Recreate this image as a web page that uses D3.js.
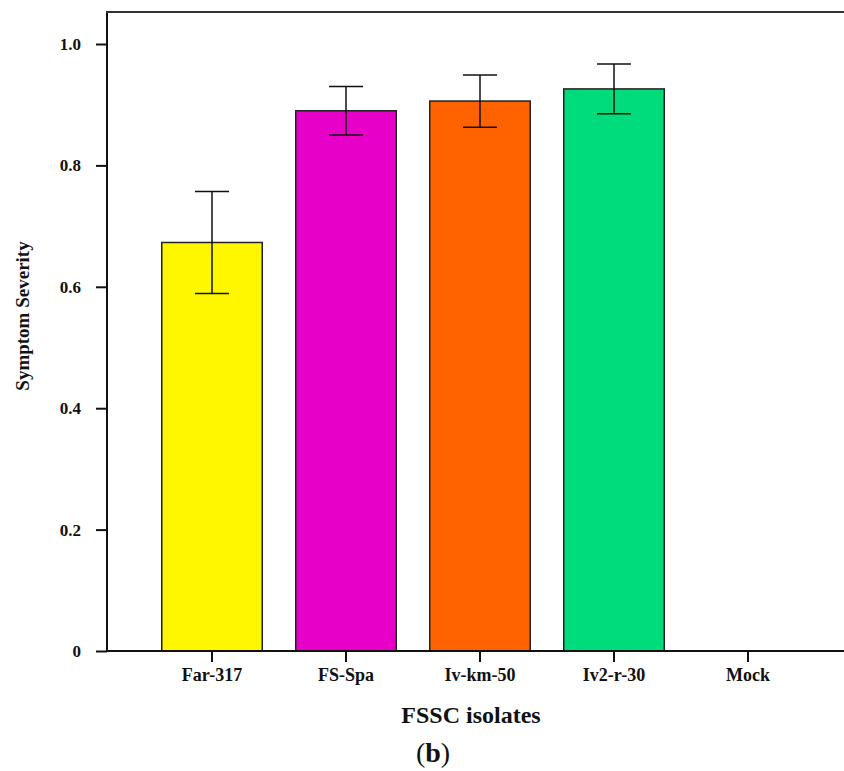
<!DOCTYPE html>
<html>
<head>
<meta charset="utf-8">
<script src="https://cdn.jsdelivr.net/npm/d3@7"></script>
<style>
  body { margin: 0; background: #fff; }
</style>
</head>
<body>
<div id="main-chart"></div>
<script>
const isolates = ["Far-317", "FS-Spa", "Iv-km-50", "Iv2-r-30", "Mock"];
const severity = [0.673, 0.890, 0.906, 0.926, 0];
const errors = [0.084, 0.040, 0.043, 0.041, 0];
const barColors = ["#fff700", "#e600c8", "#ff6300", "#00db7c", "#ffffff"];
const yTicks = [0, 0.2, 0.4, 0.6, 0.8, 1.0];

const width = 844;
const height = 771;
const serif = "'Liberation Serif', 'Times New Roman', Times, serif";

const data = isolates.map((name, i) => ({
  name: name, value: severity[i], err: errors[i], color: barColors[i]
}));

const svg = d3.select("#main-chart")
  .append("svg")
  .attr("width", width)
  .attr("height", height)
  .attr("font-family", serif)
  .attr("font-weight", "bold");

const x = d3.scaleBand()
  .domain(isolates)
  .range([145, 815])
  .paddingInner(0.25)
  .paddingOuter(0.125);

const y = d3.scaleLinear()
  .domain([0, 1])
  .range([651, 44]);

// bars
svg.append("g")
  .selectAll("rect")
  .data(data.filter((d) => d.value > 0))
  .join("rect")
  .attr("x", (d) => x(d.name))
  .attr("y", (d) => y(d.value))
  .attr("width", x.bandwidth())
  .attr("height", (d) => y(0) - y(d.value))
  .attr("fill", (d) => d.color)
  .attr("stroke", "#222")
  .attr("stroke-width", 1.5);

// error bars
const eb = svg.append("g")
  .attr("stroke", "#111")
  .attr("stroke-width", 1.5)
  .selectAll("g")
  .data(data.filter((d) => d.err > 0))
  .join("g")
  .attr("transform", (d) => `translate(${x(d.name) + x.bandwidth() / 2},0)`);

eb.append("line")
  .attr("y1", (d) => y(d.value + d.err))
  .attr("y2", (d) => y(d.value - d.err));
eb.append("line")
  .attr("x1", -17).attr("x2", 17)
  .attr("y1", (d) => y(d.value + d.err))
  .attr("y2", (d) => y(d.value + d.err));
eb.append("line")
  .attr("x1", -17).attr("x2", 17)
  .attr("y1", (d) => y(d.value - d.err))
  .attr("y2", (d) => y(d.value - d.err));

// y axis
const yAxis = svg.append("g")
  .attr("transform", "translate(107,0)")
  .call(d3.axisLeft(y).tickValues(yTicks).tickSize(11).tickPadding(15)
    .tickFormat((d) => (d === 0 ? "0" : d3.format(".1f")(d))))
  .attr("font-family", serif)
  .attr("font-size", 17);
yAxis.select(".domain").remove();
yAxis.selectAll("line").attr("stroke", "#111").attr("stroke-width", 2);
yAxis.selectAll("text").attr("fill", "#111");

// x axis
const xAxis = svg.append("g")
  .attr("transform", "translate(0,651)")
  .call(d3.axisBottom(x).tickSize(11).tickPadding(6))
  .attr("font-family", serif)
  .attr("font-size", 18);
xAxis.select(".domain").remove();
xAxis.selectAll("line").attr("stroke", "#111").attr("stroke-width", 2);
xAxis.selectAll("text").attr("fill", "#111");

// frame lines
svg.append("line").attr("x1", 107).attr("x2", 844).attr("y1", 651).attr("y2", 651)
  .attr("stroke", "#111").attr("stroke-width", 2);
svg.append("line").attr("x1", 107).attr("x2", 107).attr("y1", 11).attr("y2", 652)
  .attr("stroke", "#111").attr("stroke-width", 2);
svg.append("line").attr("x1", 106).attr("x2", 844).attr("y1", 12).attr("y2", 12)
  .attr("stroke", "#333").attr("stroke-width", 2);

// titles
svg.append("text")
  .attr("transform", "translate(29,316) rotate(-90)")
  .attr("text-anchor", "middle")
  .attr("font-size", 19)
  .attr("fill", "#111")
  .text("Symptom Severity");

svg.append("text")
  .attr("x", 471).attr("y", 723)
  .attr("text-anchor", "middle")
  .attr("font-size", 24)
  .attr("fill", "#111")
  .text("FSSC isolates");

const cap = svg.append("text")
  .attr("x", 433).attr("y", 762)
  .attr("text-anchor", "middle")
  .attr("font-size", 28)
  .attr("font-weight", "normal")
  .attr("fill", "#111");
cap.append("tspan").text("(");
cap.append("tspan").attr("font-weight", "bold").text("b");
cap.append("tspan").text(")");
</script>
</body>
</html>
